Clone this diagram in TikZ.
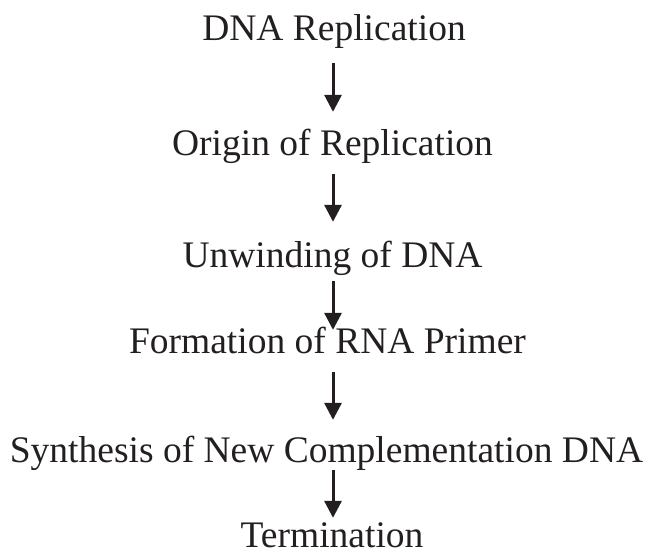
\documentclass[tikz,border=0pt]{standalone}
\usepackage{fontspec}
\setmainfont{Liberation Serif}
\usetikzlibrary{arrows.meta}
\definecolor{ink}{HTML}{231F20}
\tikzset{
  stage/.style={anchor=base, inner sep=0pt, text height=25pt, text depth=4pt,
    text=ink, font=\fontsize{37.5}{40}\selectfont},
  flow/.style={draw=ink, line width=3pt,
    -{Triangle[width=17pt,length=17pt]}}
}
\begin{document}
\begin{tikzpicture}[x=1pt,y=-1pt]
  \useasboundingbox (0,0) rectangle (652,555);
  \coordinate (ax) at (333,0);
  \node[stage] (s1) at (334,40)  {DNA Replication};
  \node[stage] (s2) at (332.5,155) {Origin of Replication};
  \node[stage] (s3) at (332.5,267) {Unwinding of DNA};
  \node[stage] (s4) at (327.5,353) {Formation of RNA Primer};
  \node[stage] (s5) at (326.5,462) {Synthesis of New Complementation DNA};
  \node[stage] (s6) at (332,547) {Termination};
  \draw[flow, shorten <=19pt, shorten >=18pt] (s1.south -| ax) -- (s2.north -| ax);
  \draw[flow, shorten <=15pt, shorten >=20pt] (s2.south -| ax) -- (s3.north -| ax);
  \draw[flow, shorten <=10pt, shorten >=-2pt] (s3.south -| ax) -- (s4.north -| ax);
  \draw[flow, shorten <=15pt, shorten >=17pt] (s4.south -| ax) -- (s5.north -| ax);
  \draw[flow, shorten <=4pt,  shorten >=4pt]  (s5.south -| ax) -- (s6.north -| ax);
\end{tikzpicture}
\end{document}
